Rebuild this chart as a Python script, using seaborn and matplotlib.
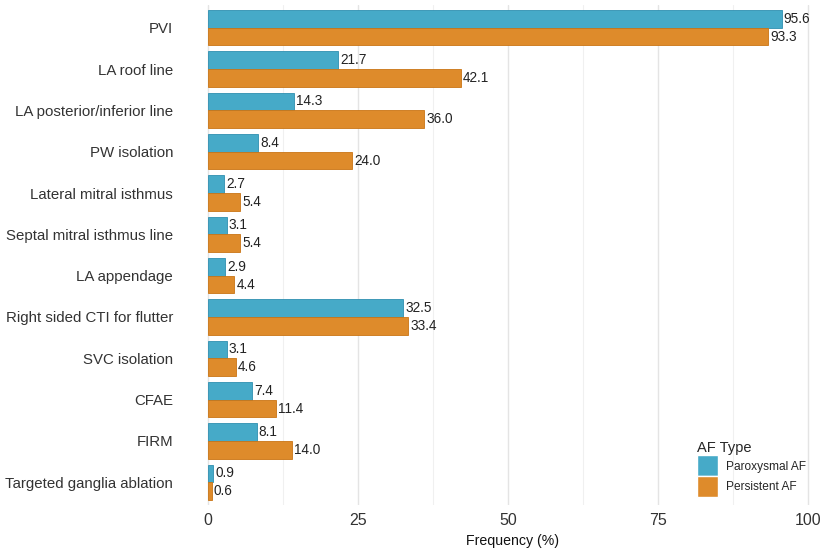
import pandas as pd
import matplotlib.pyplot as plt
import seaborn as sns

procedures = ['PVI', 'LA roof line', 'LA posterior/inferior line', 'PW isolation',
              'Lateral mitral isthmus', 'Septal mitral isthmus line', 'LA appendage',
              'Right sided CTI for flutter', 'SVC isolation', 'CFAE', 'FIRM',
              'Targeted ganglia ablation']
paroxysmal = [95.6, 21.7, 14.3, 8.4, 2.7, 3.1, 2.9, 32.5, 3.1, 7.4, 8.1, 0.9]
persistent = [93.3, 42.1, 36.0, 24.0, 5.4, 5.4, 4.4, 33.4, 4.6, 11.4, 14.0, 0.6]
af_types = ['Paroxysmal AF', 'Persistent AF']
colors = ['#46AAC8', '#DE8B2B']

df = pd.DataFrame({
    'procedure': procedures * 2,
    'freq': paroxysmal + persistent,
    'type': [af_types[0]] * len(procedures) + [af_types[1]] * len(procedures),
})

sns.set_style('whitegrid')
plt.rcParams['font.family'] = ['Liberation Sans', 'DejaVu Sans']

fig = plt.figure(figsize=(8.26, 5.5), dpi=100)
ax = fig.add_axes([205 / 826, 45 / 550, 615 / 826, 500 / 550])

sns.barplot(data=df, y='procedure', x='freq', hue='type', order=procedures,
            hue_order=af_types, palette=colors, orient='h', width=0.86,
            saturation=1, ax=ax)

for cont in ax.containers:
    for bar in cont:
        bar.set_edgecolor('#2f8fb0' if cont is ax.containers[0] else '#c97515')
        bar.set_linewidth(0.6)
    ax.bar_label(cont, fmt='%.1f', padding=1.5, fontsize=9.8, color='#222222')

ax.set_xlim(-0.5, 102)
ax.set_ylim(11.55, -0.55)
ax.set_xticks([0, 25, 50, 75, 100])
ax.set_xticks([12.5, 37.5, 62.5, 87.5], minor=True)
ax.grid(axis='x', which='major', color='#e4e4e4', linewidth=1.0)
ax.grid(axis='x', which='minor', color='#f0f0f0', linewidth=0.8)
ax.grid(axis='y', visible=False)
for s in ax.spines.values():
    s.set_visible(False)
ax.tick_params(axis='y', length=0, labelsize=10.8, colors='#333333', pad=23)
ax.tick_params(axis='x', length=0, labelsize=11.5, colors='#333333', pad=6)
ax.set_ylabel('')
ax.set_xlabel('Frequency (%)', fontsize=10.2, color='#111111', labelpad=4)

leg = ax.legend(title='AF Type', loc='lower left',
                bbox_to_anchor=(691 / 826, 1 - 503 / 550), bbox_transform=fig.transFigure,
                frameon=False, fontsize=8.6, title_fontsize=10.5, borderpad=0,
                handlelength=1.75, handleheight=2.3, handletextpad=0.7,
                labelspacing=0.0)
leg._legend_box.align = 'left'

fig.savefig('out.png', dpi=100)
